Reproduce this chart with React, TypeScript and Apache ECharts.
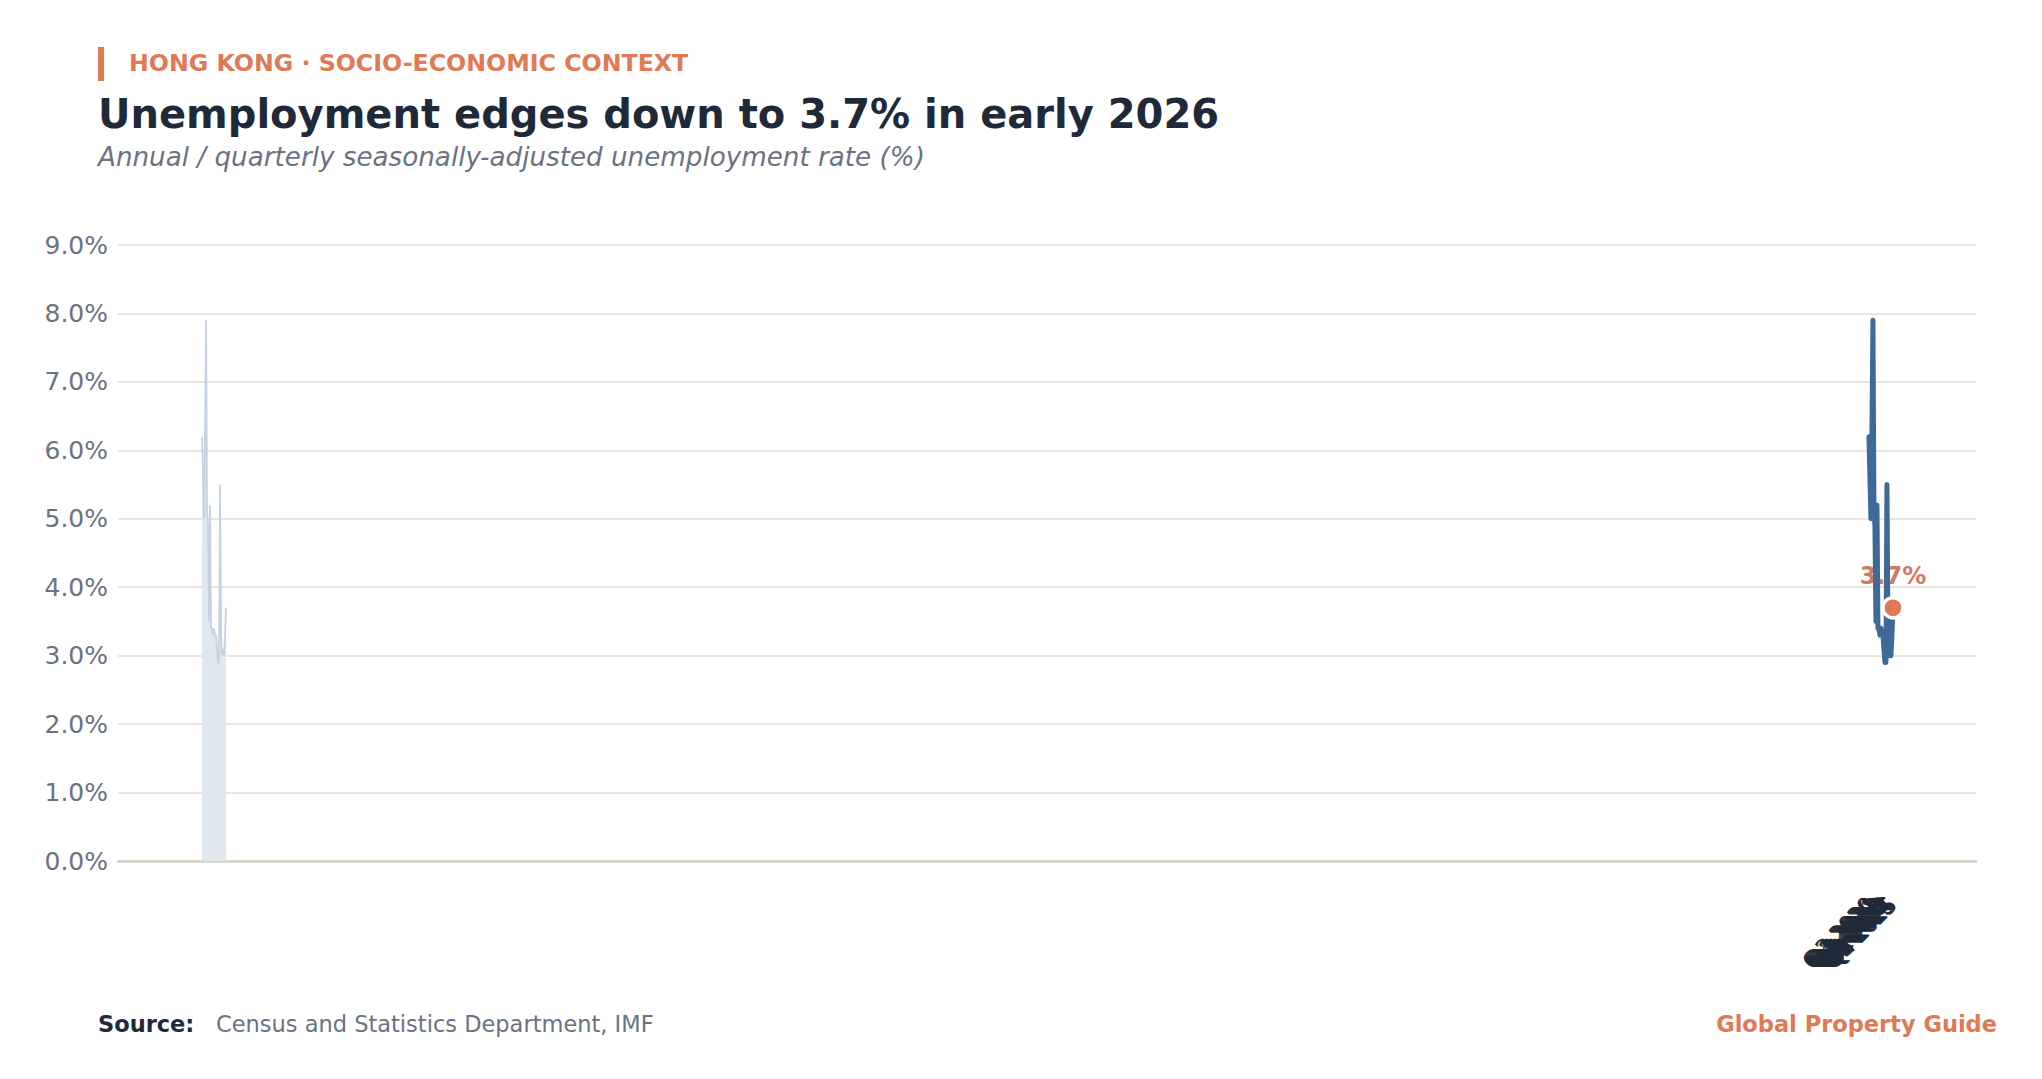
import React, { useEffect, useRef } from "react";
import * as echarts from "echarts";

// ---- Data ----
const quarters = [
  "Q1 2020", "Q2 2020", "Q3 2020", "Q4 2020",
  "Q1 2021", "Q2 2021", "Q3 2021", "Q4 2021",
  "Q1 2022", "Q2 2022", "Q3 2022", "Q4 2022",
  "Q1 2023", "Q2 2023", "Q3 2023", "Q4 2023",
  "Q1 2024", "Q2 2024", "Q3 2024", "Q4 2024",
  "Q1 2025", "Q2 2025", "Q3 2025", "Q4 2025",
  "Q1 2026",
];
const rates = [
  6.2, 5.6, 5.0, 6.3, 7.9, 5.1, 4.9, 3.5, 5.2, 3.4, 3.4, 3.3, 3.4,
  3.3, 3.3, 3.1, 2.9, 2.9, 5.5, 3.3, 3.0, 3.1, 3.0, 3.3, 3.7,
];
const yTickValues = [0, 1, 2, 3, 4, 5, 6, 7, 8, 9];

// axis windows (in quarter-index units)
const mainAxisMin = -1750;
const mainAxisMax = 107;
const contextAxisMin = -84;
const contextAxisMax = 1773;

const FONT = '"DejaVu Sans", sans-serif';
const ORANGE = "#e07a55";
const DARK = "#1f2937";
const GREY = "#6b7280";

export default function App() {
  const ref = useRef<HTMLDivElement>(null);

  useEffect(() => {
    if (!ref.current) return;
    const chart = echarts.init(ref.current, undefined, { renderer: "svg" });
    const idx = quarters.map((_, i) => i);
    const pairs = idx.map((i) => [i, rates[i]]);
    const lastI = idx.length - 1;
    const last = [[idx[lastI], rates[lastI]]];

    chart.setOption({
      animation: false,
      backgroundColor: "#ffffff",
      textStyle: { fontFamily: FONT },
      grid: { left: 118, right: 66, top: 245, bottom: 218, containLabel: false },
      xAxis: [
        {
          type: "value",
          min: mainAxisMin,
          max: mainAxisMax,
          axisLine: { show: true, lineStyle: { color: "#d5cfc3", width: 2.5 } },
          axisTick: { show: false },
          splitLine: { show: false },
          axisLabel: {
            show: true,
            customValues: idx,
            rotate: 45,
            margin: 40,
            fontFamily: "serif",
            fontSize: 26,
            color: DARK,
            hideOverlap: false,
            formatter: (v: number) => quarters[Math.round(v)] ?? "",
          },
        },
        {
          type: "value",
          min: contextAxisMin,
          max: contextAxisMax,
          show: false,
        },
      ],
      yAxis: {
        type: "value",
        min: 0,
        max: 9,
        interval: 1,
        axisLine: { show: false },
        axisTick: { show: false },
        axisLabel: {
          color: GREY,
          fontSize: 25,
          margin: 10,
          fontFamily: FONT,
          formatter: (v: number) => (yTickValues.includes(v) ? v.toFixed(1) + "%" : ""),
        },
        splitLine: { lineStyle: { color: "#ebe5d9", width: 2 } },
      },
      series: [
        {
          type: "line",
          name: "context",
          xAxisIndex: 1,
          data: pairs,
          symbol: "none",
          lineStyle: { color: "#c5d3e1", width: 1.8 },
          areaStyle: { color: "#e0e7ef", opacity: 1 },
          z: 1,
        },
        {
          type: "scatter",
          name: "latest-label",
          xAxisIndex: 0,
          data: last,
          symbolSize: 0,
          z: 2,
          label: {
            show: true,
            position: "top",
            distance: 20,
            formatter: (p: any) => p.value[1].toFixed(1) + "%",
            color: "#c4553a",
            fontWeight: "bold",
            fontSize: 24,
            fontFamily: FONT,
          },
        },
        {
          type: "line",
          name: "Unemployment rate",
          xAxisIndex: 0,
          data: pairs,
          symbol: "none",
          lineStyle: { color: "#3d6a96", width: 5, cap: "round", join: "round" },
          z: 3,
        },
        {
          type: "scatter",
          name: "latest",
          xAxisIndex: 0,
          data: last,
          symbolSize: 20,
          itemStyle: { color: ORANGE, borderColor: "#ffffff", borderWidth: 3.5, opacity: 1 },
          z: 4,
        },
      ],
      graphic: [
        { type: "rect", left: 98, top: 47, shape: { width: 6, height: 34 }, style: { fill: ORANGE } },
        {
          type: "text",
          x: 129,
          y: 63,
          style: {
            text: "HONG KONG · SOCIO-ECONOMIC CONTEXT",
            fill: ORANGE,
            font: `bold 23.7px ${FONT}`,
            verticalAlign: "middle",
          },
        },
        {
          type: "text",
          x: 98,
          y: 114,
          style: {
            text: "Unemployment edges down to 3.7% in early 2026",
            fill: DARK,
            font: `bold 40px ${FONT}`,
            verticalAlign: "middle",
          },
        },
        {
          type: "text",
          x: 98,
          y: 157,
          style: {
            text: "Annual / quarterly seasonally-adjusted unemployment rate (%)",
            fill: GREY,
            font: `italic 26.2px ${FONT}`,
            verticalAlign: "middle",
          },
        },
        {
          type: "text",
          x: 98,
          y: 1024,
          style: { text: "Source:", fill: DARK, font: `bold 22.5px ${FONT}`, verticalAlign: "middle" },
        },
        {
          type: "text",
          x: 216,
          y: 1024,
          style: {
            text: "Census and Statistics Department, IMF",
            fill: GREY,
            font: `22.5px ${FONT}`,
            verticalAlign: "middle",
          },
        },
        {
          type: "text",
          x: 1997,
          y: 1024,
          style: {
            text: "Global Property Guide",
            fill: ORANGE,
            font: `bold 22.5px ${FONT}`,
            align: "right",
            verticalAlign: "middle",
          },
        },
      ],
    });
    return () => chart.dispose();
  }, []);

  return (
    <div
      ref={ref}
      style={{ position: "fixed", left: 0, top: 0, width: "2042px", height: "1079px", background: "#fff" }}
    />
  );
}
